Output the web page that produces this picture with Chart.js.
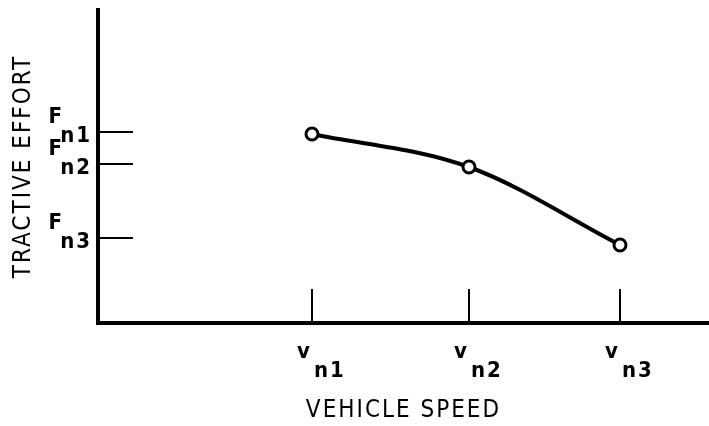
<!DOCTYPE html>
<html>
<head>
<meta charset="utf-8">
<script src="https://cdn.jsdelivr.net/npm/chart.js@4/dist/chart.umd.min.js"></script>
<style>
  html, body { margin: 0; padding: 0; background: #fff; }
</style>
</head>
<body>
<canvas id="effortChart" width="709" height="426"></canvas>
<script>
// schematic units, no real scale on either axis
const speedSubs = ["n1", "n2", "n3"];
const speedValues = [214, 371, 522];
const effortValues = [189, 156, 78];
const effortSubs = ["n1", "n2", "n3"];
const effortTicks = [191, 159, 85];

const FONT = "DejaVu Sans Condensed";

// letters in the scan are spaced out a bit
const spacing = {
  id: "spacing",
  beforeDraw(chart) {
    chart.ctx.letterSpacing = "2px";
  }
};

// ticks point inwards and labels carry a subscript, so draw them by hand
const insideTicks = {
  id: "insideTicks",
  afterDraw(chart) {
    const ctx = chart.ctx;
    const xs = chart.scales.x, ys = chart.scales.y;
    ctx.save();
    ctx.strokeStyle = "#000";
    ctx.fillStyle = "#000";
    ctx.lineWidth = 2;
    ctx.font = "bold 22px '" + FONT + "'";
    ctx.textBaseline = "middle";

    speedValues.forEach((v, i) => {
      const px = xs.getPixelForValue(v);
      ctx.beginPath();
      ctx.moveTo(px, ys.bottom);
      ctx.lineTo(px, ys.bottom - 34);
      ctx.stroke();
      ctx.textAlign = "right";
      ctx.fillText("v", px, ys.bottom + 29);
      ctx.textAlign = "left";
      ctx.fillText(speedSubs[i], px + 2, ys.bottom + 48);
    });

    effortTicks.forEach((v, i) => {
      const py = ys.getPixelForValue(v);
      ctx.beginPath();
      ctx.moveTo(xs.left, py);
      ctx.lineTo(xs.left + 35, py);
      ctx.stroke();
      ctx.textAlign = "right";
      ctx.fillText("F", xs.left - 34, py - 15);
      ctx.fillText(effortSubs[i], xs.left - 6, py + 4);
    });
    ctx.restore();
  }
};

new Chart(document.getElementById("effortChart"), {
  type: "line",
  data: {
    datasets: [{
      data: speedValues.map((v, i) => ({ x: v, y: effortValues[i] })),
      borderColor: "#000",
      borderWidth: 4,
      cubicInterpolationMode: "monotone",
      fill: false,
      pointRadius: 6,
      pointBorderWidth: 3,
      pointBorderColor: "#000",
      pointBackgroundColor: "#fff"
    }]
  },
  options: {
    responsive: false,
    animation: false,
    layout: { autoPadding: false, padding: { top: 10, right: 0, left: 0, bottom: 0 } },
    plugins: {
      legend: { display: false },
      tooltip: { enabled: false }
    },
    scales: {
      x: {
        type: "linear",
        min: 0,
        max: 611,
        grid: { drawOnChartArea: false, drawTicks: false },
        border: { display: true, color: "#000", width: 4 },
        ticks: { display: false },
        title: {
          display: true,
          text: "VEHICLE SPEED",
          color: "#000",
          font: { family: FONT, size: 24 },
          padding: { top: 0, bottom: 1 }
        },
        afterFit(scale) { scale.height = 103; }
      },
      y: {
        type: "linear",
        min: 0,
        max: 313,
        grid: { drawOnChartArea: false, drawTicks: false },
        border: { display: true, color: "#000", width: 4 },
        ticks: { display: false },
        title: {
          display: true,
          text: "TRACTIVE EFFORT",
          color: "#000",
          font: { family: FONT, size: 24 },
          padding: { top: 9, bottom: 0 }
        },
        afterFit(scale) { scale.width = 98; }
      }
    }
  },
  plugins: [spacing, insideTicks]
});
</script>
</body>
</html>
